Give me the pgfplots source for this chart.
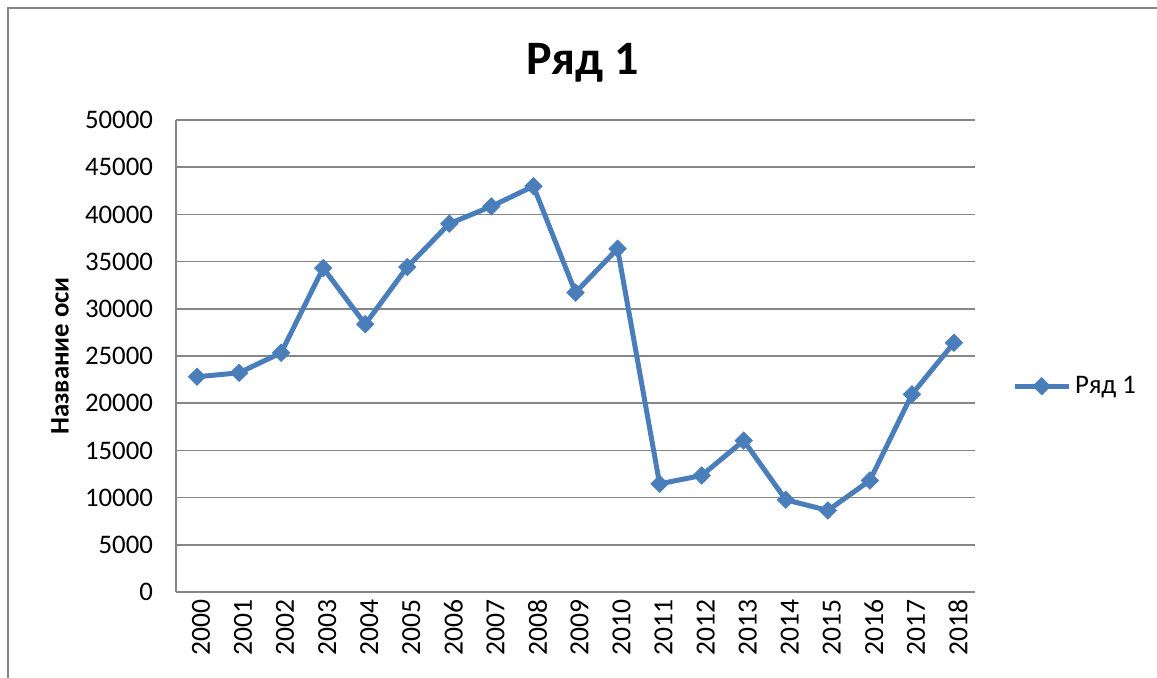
\documentclass[border=0pt]{standalone}
\usepackage{fontspec}
\setmainfont{Carlito}
\usepackage{pgfplots}
\pgfplotsset{compat=1.18}
\definecolor{serblue}{HTML}{4A7EBB}
\definecolor{gridgray}{HTML}{868686}
\begin{document}
\begin{tikzpicture}
\useasboundingbox (0,0) rectangle (578.5pt,338.5pt);
\draw[gridgray, line width=0.7pt] (4pt,-10pt) -- (4pt,334.5pt) -- (600pt,334.5pt);
\begin{axis}[
  at={(88pt,42.5pt)}, anchor=south west,
  scale only axis, width=399.5pt, height=236pt,
  xmin=1999.5, xmax=2018.5, ymin=0, ymax=50000,
  xtick=data, ytick={0,5000,...,50000},
  /pgf/number format/1000 sep={},
  /pgf/number format/assume math mode=true,
  scaled y ticks=false,
  y tick label style={/pgf/number format/fixed, font=\fontsize{13.4}{14}\selectfont, xshift=-8pt},
  x tick label style={rotate=90, anchor=east, font=\fontsize{13.8}{14}\selectfont, yshift=-2pt},
  major tick length=0pt,
  axis x line*=bottom, axis y line*=left,
  axis line style={gridgray, line width=0.8pt},
  every outer x axis line/.append style={-}, every outer y axis line/.append style={-},
  ymajorgrids, grid style={gridgray, line width=0.8pt},
  title={Ряд 1},
  title style={at={(axis description cs:0.509,1.095)}, anchor=center, font=\bfseries\fontsize{24}{26}\selectfont},
  ylabel={Название оси},
  ylabel style={at={(axis description cs:-0.145,0.5)}, anchor=center, font=\bfseries\fontsize{13.4}{14}\selectfont},
  legend style={at={(axis description cs:1.046,0.436)}, anchor=west, draw=none, fill=none, font=\fontsize{13.4}{14}\selectfont, inner sep=0pt},
  legend cell align=left,
  legend image code/.code={\draw[mark repeat=2,mark phase=2,#1] plot coordinates {(0pt,0pt) (13.5pt,0pt) (27pt,0pt)};},
]
\addplot[serblue, line width=2.5pt, mark=square*, mark size=3.05pt, mark options={solid, line width=0.4pt, fill=serblue, rotate=45}] coordinates {
(2000,22800) (2001,23220) (2002,25340) (2003,34320) (2004,28370)
(2005,34430) (2006,39020) (2007,40850) (2008,42990) (2009,31720)
(2010,36370) (2011,11460) (2012,12340) (2013,16040) (2014,9770)
(2015,8640) (2016,11810) (2017,20940) (2018,26400)
};
\addlegendentry{Ряд 1}
\end{axis}
\end{tikzpicture}
\end{document}
